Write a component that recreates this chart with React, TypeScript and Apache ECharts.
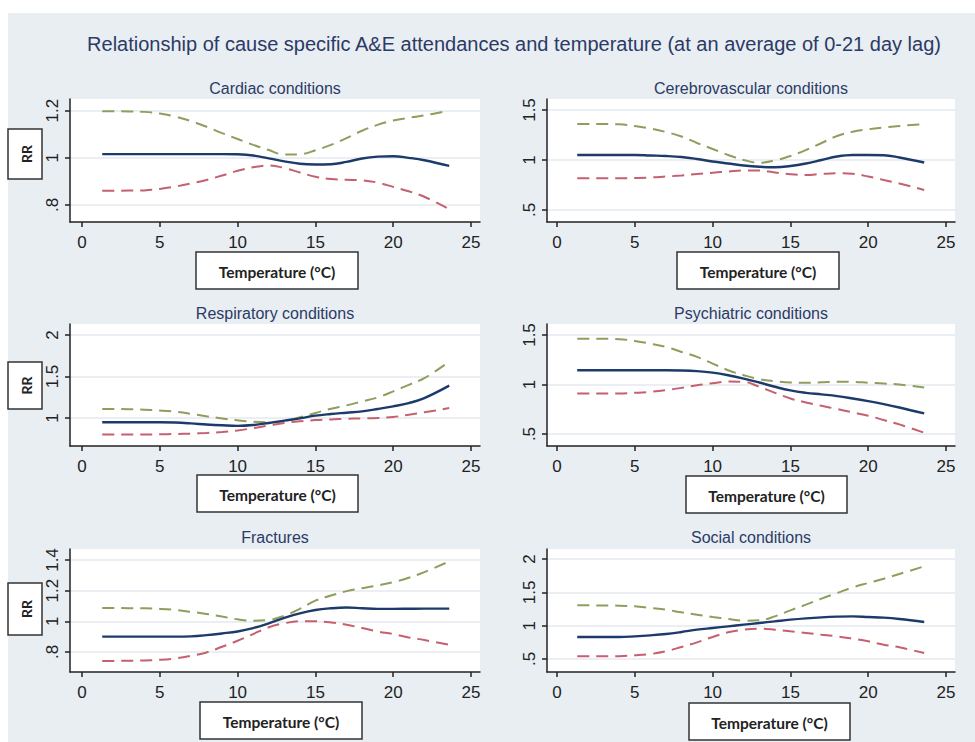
import React, { useEffect, useRef } from "react";
import * as echarts from "echarts";

// ---------- data ----------
const temps = [1.3, 2, 3, 4, 5, 6, 7, 8, 9, 10, 11, 12, 13, 14, 15, 16, 17, 18, 19, 20, 21, 22, 23.6];
const xTickValues = [0, 5, 10, 15, 20, 25];

const mainTitle = "Relationship of cause specific A&E attendances and temperature (at an average of 0-21 day lag)";
const panelTitles = [
  "Cardiac conditions",
  "Cerebrovascular conditions",
  "Respiratory conditions",
  "Psychiatric conditions",
  "Fractures",
  "Social conditions",
];
const xAxisTitle = "Temperature (°C)";
const yAxisTitle = "RR";

const cardiacRR = [1.016, 1.016, 1.016, 1.016, 1.016, 1.016, 1.016, 1.016, 1.016, 1.015, 1.01, 0.998, 0.985, 0.975, 0.972, 0.973, 0.983, 0.997, 1.005, 1.007, 1.0, 0.99, 0.966];
const cardiacUpper = [1.198, 1.198, 1.197, 1.195, 1.188, 1.175, 1.156, 1.132, 1.105, 1.08, 1.055, 1.033, 1.014, 1.015, 1.032, 1.055, 1.084, 1.115, 1.14, 1.158, 1.17, 1.18, 1.2];
const cardiacLower = [0.86, 0.86, 0.861, 0.862, 0.868, 0.878, 0.891, 0.906, 0.925, 0.945, 0.96, 0.968, 0.957, 0.938, 0.92, 0.91, 0.907, 0.905, 0.895, 0.877, 0.858, 0.835, 0.782];

const cerebroRR = [1.05, 1.05, 1.05, 1.05, 1.05, 1.045, 1.04, 1.03, 1.01, 0.985, 0.965, 0.945, 0.932, 0.928, 0.94, 0.965, 1.0, 1.035, 1.05, 1.05, 1.048, 1.025, 0.975];
const cerebroUpper = [1.36, 1.36, 1.36, 1.357, 1.34, 1.315, 1.28, 1.235, 1.17, 1.11, 1.05, 1.0, 0.972, 0.995, 1.04, 1.1, 1.17, 1.24, 1.283, 1.307, 1.325, 1.34, 1.36];
const cerebroLower = [0.817, 0.817, 0.817, 0.817, 0.82, 0.825, 0.835, 0.845, 0.86, 0.873, 0.885, 0.895, 0.895, 0.875, 0.857, 0.85, 0.86, 0.867, 0.862, 0.835, 0.8, 0.765, 0.7];

const respRR = [0.948, 0.948, 0.948, 0.948, 0.948, 0.945, 0.935, 0.922, 0.912, 0.905, 0.915, 0.94, 0.968, 0.995, 1.028, 1.048, 1.064, 1.08, 1.108, 1.14, 1.18, 1.24, 1.39];
const respUpper = [1.108, 1.108, 1.106, 1.1, 1.09, 1.075, 1.05, 1.02, 0.995, 0.972, 0.955, 0.948, 0.965, 1.008, 1.06, 1.112, 1.152, 1.2, 1.248, 1.32, 1.4, 1.48, 1.68];
const respLower = [0.8, 0.8, 0.8, 0.8, 0.803, 0.807, 0.812, 0.82, 0.832, 0.85, 0.878, 0.91, 0.94, 0.96, 0.975, 0.983, 0.99, 0.996, 1.0, 1.012, 1.04, 1.068, 1.12];

const psychRR = [1.144, 1.144, 1.144, 1.144, 1.144, 1.144, 1.144, 1.142, 1.135, 1.12, 1.094, 1.06, 1.02, 0.977, 0.94, 0.916, 0.9, 0.883, 0.859, 0.832, 0.802, 0.768, 0.708];
const psychUpper = [1.463, 1.463, 1.462, 1.458, 1.44, 1.413, 1.379, 1.329, 1.279, 1.211, 1.144, 1.094, 1.054, 1.034, 1.02, 1.017, 1.022, 1.027, 1.027, 1.018, 1.01, 1.0, 0.97];
const psychLower = [0.909, 0.909, 0.909, 0.909, 0.916, 0.926, 0.943, 0.966, 0.993, 1.013, 1.03, 1.027, 0.977, 0.916, 0.859, 0.819, 0.785, 0.752, 0.718, 0.685, 0.641, 0.597, 0.513];

const fractRR = [0.9, 0.9, 0.9, 0.9, 0.9, 0.9, 0.902, 0.91, 0.921, 0.934, 0.956, 0.987, 1.022, 1.052, 1.074, 1.085, 1.09, 1.085, 1.081, 1.081, 1.082, 1.083, 1.083];
const fractUpper = [1.087, 1.087, 1.086, 1.085, 1.081, 1.074, 1.062, 1.048, 1.031, 1.013, 1.004, 1.009, 1.037, 1.081, 1.135, 1.168, 1.197, 1.216, 1.234, 1.255, 1.284, 1.321, 1.391];
const fractLower = [0.742, 0.742, 0.743, 0.745, 0.749, 0.758, 0.775, 0.797, 0.834, 0.873, 0.917, 0.961, 0.987, 1.0, 1.0, 0.993, 0.978, 0.956, 0.934, 0.917, 0.895, 0.878, 0.847];

const socialRR = [0.83, 0.83, 0.83, 0.83, 0.84, 0.855, 0.875, 0.905, 0.94, 0.965, 0.99, 1.015, 1.04, 1.065, 1.09, 1.11, 1.125, 1.135, 1.14, 1.13, 1.12, 1.1, 1.055];
const socialUpper = [1.305, 1.305, 1.303, 1.3, 1.29, 1.265, 1.24, 1.2, 1.165, 1.13, 1.1, 1.075, 1.08, 1.14, 1.23, 1.315, 1.405, 1.49, 1.575, 1.64, 1.705, 1.775, 1.89];
const socialLower = [0.54, 0.54, 0.54, 0.542, 0.555, 0.575, 0.615, 0.68, 0.75, 0.83, 0.9, 0.94, 0.955, 0.94, 0.915, 0.89, 0.865, 0.84, 0.805, 0.765, 0.715, 0.675, 0.59];

const yTickValues = [
  [0.8, 1, 1.2],
  [0.5, 1, 1.5],
  [1, 1.5, 2],
  [0.5, 1, 1.5],
  [0.8, 1, 1.2, 1.4],
  [0.5, 1, 1.5, 2],
];
const yRanges = [
  [0.7279, 1.2496],
  [0.38, 1.61],
  [0.6627, 2.1325],
  [0.379, 1.611],
  [0.6695, 1.4717],
  [0.305, 2.15],
];

const panelsRR = [cardiacRR, cerebroRR, respRR, psychRR, fractRR, socialRR];
const panelsUpper = [cardiacUpper, cerebroUpper, respUpper, psychUpper, fractUpper, socialUpper];
const panelsLower = [cardiacLower, cerebroLower, respLower, psychLower, fractLower, socialLower];

// ---------- layout ----------
const grids = [
  { left: 70, top: 99, width: 410, height: 123 },
  { left: 547, top: 99, width: 408, height: 123 },
  { left: 70, top: 324, width: 410, height: 122 },
  { left: 547, top: 324, width: 408, height: 122 },
  { left: 70, top: 549, width: 410, height: 123 },
  { left: 547, top: 549, width: 408, height: 123 },
];
const xRanges = [
  [-0.771, 25.578],
  [-0.643, 25.578],
];
const tempBoxes = [
  { x: 196, y: 252, w: 162, h: 37 },
  { x: 677, y: 252, w: 162, h: 37 },
  { x: 197, y: 475, w: 161, h: 37 },
  { x: 686, y: 476, w: 161, h: 37 },
  { x: 200, y: 702, w: 162, h: 37 },
  { x: 689, y: 703, w: 161, h: 37 },
];
const rrBoxes = [
  { x: 8, y: 129, w: 34, h: 50 },
  { x: 8, y: 362, w: 34, h: 47 },
  { x: 8, y: 583, w: 34, h: 52 },
];
const panelTitleY = [88, 88, 313, 313, 537, 537];

const FONT = '"Liberation Sans", Arial, sans-serif';
const BG = "#e8eef2";
const NAVY = "#1c3a6a";
const GREEN = "#8e9e5c";
const RED = "#c4606f";
const TITLE_COLOR = "#2c3a66";

function fmt(v: number) {
  const s = String(v);
  return s.startsWith("0.") ? s.slice(1) : s;
}

export default function App() {
  const ref = useRef<HTMLDivElement>(null);
  useEffect(() => {
    if (!ref.current) return;
    const chart = echarts.init(ref.current, null, { renderer: "svg" });

    const xAxes: any[] = [];
    const yAxes: any[] = [];
    const series: any[] = [];
    const graphics: any[] = [];

    graphics.push({ type: "rect", shape: { x: 0, y: 0, width: 975, height: 13 }, style: { fill: "#ffffff" }, z: 10 });
    graphics.push({ type: "rect", shape: { x: 0, y: 0, width: 8, height: 742 }, style: { fill: "#ffffff" }, z: 10 });
    graphics.push({
      type: "text",
      x: 514,
      y: 44,
      style: { text: mainTitle, fill: TITLE_COLOR, fontSize: 20, fontFamily: FONT, align: "center", verticalAlign: "middle" },
      z: 20,
    });

    grids.forEach((g, i) => {
      const col = i % 2;
      xAxes.push({
        type: "value",
        gridIndex: i,
        min: xRanges[col][0],
        max: xRanges[col][1],
        axisLine: { show: true, onZero: false, lineStyle: { color: "#222", width: 1.5 } },
        axisTick: { show: true, length: 5, customValues: xTickValues, lineStyle: { color: "#222", width: 1.5 } },
        axisLabel: { customValues: xTickValues, color: "#222", fontSize: 17, fontFamily: FONT, margin: 12 },
        splitLine: { show: false },
      });
      yAxes.push({
        type: "value",
        gridIndex: i,
        min: yRanges[i][0],
        max: yRanges[i][1],
        axisLine: { show: true, onZero: false, lineStyle: { color: "#222", width: 1.5 } },
        axisTick: { show: true, length: 5, customValues: yTickValues[i], lineStyle: { color: "#222", width: 1.5 } },
        axisLabel: {
          customValues: yTickValues[i],
          color: "#222",
          fontSize: 17,
          fontFamily: FONT,
          rotate: 90,
          margin: 9,
          formatter: (v: number) => fmt(v),
        },
        splitLine: { show: true, lineStyle: { color: "#e4eaef", width: 1.5 } },
      });
      const mk = (vals: number[], color: string, dashed: boolean, name: string) => ({
        type: "line",
        name,
        xAxisIndex: i,
        yAxisIndex: i,
        data: temps.map((t, j) => [t, vals[j]]),
        showSymbol: false,
        smooth: 0.4,
        lineStyle: { color, width: dashed ? 2 : 2.4, type: dashed ? [12, 7] : "solid" },
        z: dashed ? 2 : 3,
      });
      series.push(mk(panelsUpper[i], GREEN, true, "upper"));
      series.push(mk(panelsLower[i], RED, true, "lower"));
      series.push(mk(panelsRR[i], NAVY, false, "RR"));

      graphics.push({
        type: "text",
        x: g.left + g.width / 2,
        y: panelTitleY[i],
        style: { text: panelTitles[i], fill: TITLE_COLOR, fontSize: 16, fontFamily: FONT, align: "center", verticalAlign: "middle" },
        z: 20,
      });
      const b = tempBoxes[i];
      graphics.push({
        type: "rect",
        shape: { x: b.x, y: b.y, width: b.w, height: b.h },
        style: { fill: "#ffffff", stroke: "#333333", lineWidth: 1.5 },
        z: 20,
      });
      graphics.push({
        type: "text",
        x: b.x + b.w / 2,
        y: b.y + b.h / 2 + 1,
        style: { text: xAxisTitle, fill: "#222", fontSize: 15.5, fontWeight: "bold", fontFamily: "Lato, " + FONT, align: "center", verticalAlign: "middle" },
        z: 21,
      });
    });

    rrBoxes.forEach((b) => {
      graphics.push({
        type: "rect",
        shape: { x: b.x, y: b.y, width: b.w, height: b.h },
        style: { fill: "#ffffff", stroke: "#333333", lineWidth: 1.5 },
        z: 20,
      });
      graphics.push({
        type: "text",
        x: b.x + b.w / 2 + 1,
        y: b.y + b.h / 2,
        rotation: Math.PI / 2,
        style: { text: yAxisTitle, fill: "#222", fontSize: 14, fontWeight: "bold", fontFamily: "Lato, " + FONT, align: "center", verticalAlign: "middle" },
        z: 21,
      });
    });

    chart.setOption({
      animation: false,
      backgroundColor: BG,
      grid: grids.map((g) => ({ ...g, show: true, backgroundColor: "#ffffff", borderWidth: 0, containLabel: false })),
      xAxis: xAxes,
      yAxis: yAxes,
      series,
      graphic: graphics,
    });
    return () => chart.dispose();
  }, []);
  return <div ref={ref} style={{ position: "absolute", left: 0, top: 0, width: 975, height: 742 }} />;
}
